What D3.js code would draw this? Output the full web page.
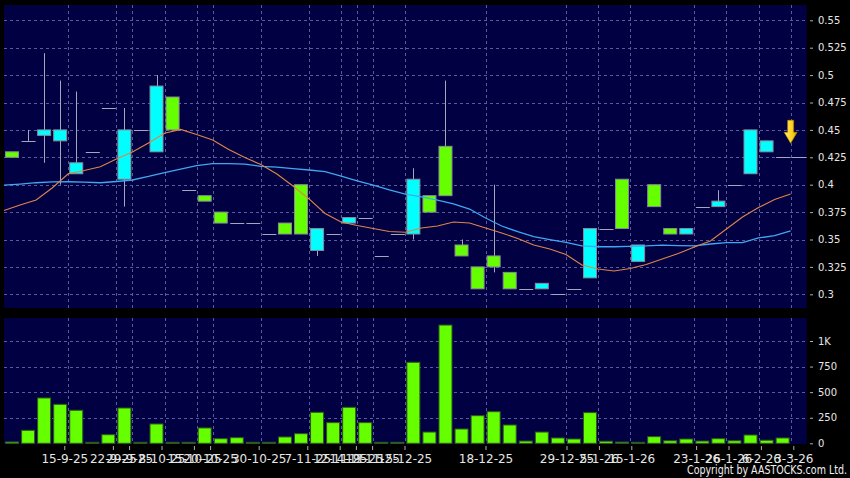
<!DOCTYPE html>
<html><head><meta charset="utf-8">
<script src="https://cdn.jsdelivr.net/npm/d3@7"></script>
<style>html,body{margin:0;padding:0;background:#000;}svg{display:block;}</style>
</head><body>
<svg id="c" width="850" height="478"></svg>
<script>
// ---- data ----
const opens  = [0.43,0.44,0.445,0.44,0.41,0.43,0.47,0.405,0.45,0.43,0.48,0.395,0.39,0.375,0.365,0.365,0.355,0.365,0.40,0.34,0.355,0.365,0.37,0.335,0.355,0.355,0.39,0.435,0.345,0.325,0.335,0.32,0.305,0.305,0.30,0.305,0.315,0.36,0.405,0.33,0.40,0.36,0.355,0.38,0.38,0.40,0.41,0.43,0.425];
const highs  = [0.43,0.45,0.52,0.495,0.485,0.43,0.47,0.47,0.45,0.50,0.48,0.395,0.39,0.375,0.365,0.365,0.355,0.365,0.40,0.36,0.355,0.37,0.37,0.335,0.355,0.415,0.39,0.495,0.35,0.325,0.40,0.32,0.305,0.31,0.30,0.305,0.36,0.36,0.405,0.345,0.40,0.36,0.36,0.38,0.395,0.40,0.45,0.44,0.425];
const lows   = [0.425,0.44,0.42,0.40,0.41,0.43,0.47,0.38,0.45,0.43,0.45,0.395,0.385,0.365,0.365,0.365,0.355,0.355,0.355,0.335,0.355,0.365,0.37,0.335,0.355,0.35,0.375,0.39,0.335,0.305,0.32,0.305,0.305,0.305,0.30,0.305,0.315,0.36,0.36,0.33,0.38,0.355,0.355,0.38,0.38,0.40,0.41,0.43,0.425];
const closes = [0.425,0.44,0.45,0.45,0.42,0.43,0.47,0.45,0.45,0.49,0.45,0.395,0.385,0.365,0.365,0.365,0.355,0.355,0.355,0.36,0.355,0.37,0.37,0.335,0.355,0.405,0.375,0.39,0.335,0.305,0.325,0.305,0.305,0.31,0.30,0.305,0.36,0.36,0.36,0.345,0.38,0.355,0.36,0.38,0.385,0.40,0.45,0.44,0.425];
const volumes = [13,127,443,381,323,6,84,345,2,189,8,8,150,45,55,0,10,62,94,303,202,352,202,10,10,792,110,1156,140,270,309,179,22,110,52,42,300,20,12,3,65,25,42,22,45,25,81,30,52];
// moving averages, one value per slot boundary (first value lies before candle 0)
const maShort = [0.3765,0.3815,0.386,0.397,0.41,0.413,0.4164,0.4234,0.4298,0.438,0.4469,0.4505,0.4458,0.4408,0.4321,0.4248,0.4184,0.4098,0.3988,0.387,0.3737,0.366,0.3628,0.36,0.3573,0.3566,0.3605,0.3623,0.366,0.365,0.3605,0.356,0.351,0.345,0.3413,0.3363,0.3267,0.3231,0.3213,0.3235,0.3272,0.3322,0.3372,0.3432,0.3486,0.3596,0.3705,0.3792,0.3865,0.3915];
const maLong  = [0.3997,0.4006,0.4018,0.4025,0.4027,0.4023,0.4018,0.4029,0.4043,0.4075,0.4111,0.4143,0.4175,0.4193,0.4193,0.4187,0.4168,0.4161,0.4146,0.4134,0.4119,0.4079,0.4034,0.3997,0.3952,0.3915,0.3888,0.386,0.3824,0.3778,0.3696,0.3623,0.3571,0.3526,0.3498,0.3473,0.3441,0.3434,0.3434,0.3438,0.3441,0.3448,0.3445,0.3441,0.3459,0.3471,0.3471,0.3514,0.3535,0.3578];
const tickIdx    = [3,6,7,9,11,12,15,18,20,21,22,24,29,34,36,38,42,44,46,48];
const tickLabels = ["15-9-25","22-9-25","29-9-25","8-10-25","15-10-25","20-10-25","30-10-25","7-11-25","12-11-25","14-11-25","19-11-25","15-12-25","18-12-25","29-12-25","5-1-26","15-1-26","23-1-26","26-1-26","6-2-26","3-3-26"];
const priceTicks = [0.3,0.325,0.35,0.375,0.4,0.425,0.45,0.475,0.5,0.525,0.55];
const volTicks   = [0,250,500,750,1000];
const volLabels  = ["0","250","500","750","1K"];

// ---- layout ----
const svg = d3.select("#c");
const L = 4, R = 806.7;
const mainTop = 5, mainBot = 308, volTop = 318, volBot = 444;
const n = closes.length;
const x = d3.scaleLinear().domain([-0.5, n + 0.5]).range([L, R]);
const xt = d3.scaleLinear().domain([0, n - 1]).range([15.7, 793.3]);
const y = d3.scaleLinear().domain([0.3, 0.55]).range([294.3, 20.3]);
const yv = d3.scaleLinear().domain([0, 1000]).range([443.3, 341]);
const slot = x(1) - x(0);
const bw = slot * 0.81;

const NAVY = "#000042", GRID = "#5a5aa0";
const CYAN = "#00ffff", GREEN = "#66ff00";

svg.append("rect").attr("width",850).attr("height",478).attr("fill","#000");
svg.append("rect").attr("x",L).attr("y",mainTop).attr("width",R-L).attr("height",mainBot-mainTop).attr("fill",NAVY);
svg.append("rect").attr("x",L).attr("y",volTop).attr("width",R-L).attr("height",volBot-volTop).attr("fill",NAVY);

const grid = svg.append("g").attr("stroke",GRID).attr("stroke-width",1).attr("stroke-dasharray","3,3").attr("shape-rendering","crispEdges");
priceTicks.forEach(v => grid.append("line").attr("x1",L).attr("x2",R).attr("y1",Math.round(y(v))+0.5).attr("y2",Math.round(y(v))+0.5));
volTicks.slice(1).forEach(v => grid.append("line").attr("x1",L).attr("x2",R).attr("y1",Math.round(yv(v))+0.5).attr("y2",Math.round(yv(v))+0.5));
tickIdx.forEach(i => {
  const gx = Math.round(x(i + 0.5)) + 0.5;
  grid.append("line").attr("x1",gx).attr("x2",gx).attr("y1",mainTop).attr("y2",mainBot);
  grid.append("line").attr("x1",gx).attr("x2",gx).attr("y1",volTop).attr("y2",volBot);
});

// volume bars
svg.append("g").selectAll("rect").data(volumes).join("rect")
  .attr("x",(d,i)=>x(i)-bw/2).attr("width",bw)
  .attr("y",d=>Math.min(yv(d), yv(0)-1)).attr("height",d=>Math.max(1, yv(0)-yv(d)))
  .attr("fill",GREEN).attr("stroke","#2d5a1a").attr("stroke-width",1);

// candles
const cg = svg.append("g");
const idx = d3.range(n);
cg.selectAll("line.w").data(idx.filter(i => highs[i] > lows[i])).join("line")
  .attr("x1",i=>Math.round(x(i))+0.5).attr("x2",i=>Math.round(x(i))+0.5)
  .attr("y1",i=>y(highs[i])).attr("y2",i=>y(lows[i]))
  .attr("stroke","#a6a6bc").attr("stroke-width",1);
cg.selectAll("line.d").data(idx.filter(i => opens[i] === closes[i])).join("line")
  .attr("x1",i=>x(i)-bw/2).attr("x2",i=>x(i)+bw/2+1)
  .attr("y1",i=>Math.round(y(closes[i]))+0.5).attr("y2",i=>Math.round(y(closes[i]))+0.5)
  .attr("stroke","#a6a6bc").attr("stroke-width",1);
cg.selectAll("rect").data(idx.filter(i => opens[i] !== closes[i])).join("rect")
  .attr("x",i=>x(i)-bw/2).attr("width",bw)
  .attr("y",i=>y(Math.max(opens[i],closes[i])))
  .attr("height",i=>Math.abs(y(opens[i])-y(closes[i])))
  .attr("fill",i=>closes[i] > opens[i] ? CYAN : GREEN)
  .attr("stroke","#8a8a9a").attr("stroke-width",1);

// last price extension
const last = closes[n-1];
svg.append("line").attr("x1",x(n-1+0.5)+1).attr("x2",R).attr("y1",Math.round(y(last))+0.5).attr("y2",Math.round(y(last))+0.5)
  .attr("stroke","#a6a6bc").attr("stroke-width",1);

// moving averages
const maLine = d3.line().x((d,k)=>x(k-0.5)).y(d=>y(d));
svg.append("path").attr("d",maLine(maLong)).attr("fill","none").attr("stroke","#3fa8f0").attr("stroke-width",1.3);
svg.append("path").attr("d",maLine(maShort)).attr("fill","none").attr("stroke","#e0844a").attr("stroke-width",1.1);

// arrow marker
const ax = x(n-1+0.5), ay = y(last) - 37;
const defs = svg.append("defs");
const gr = defs.append("linearGradient").attr("id","ag").attr("x1",0).attr("x2",1).attr("y1",0).attr("y2",0);
gr.append("stop").attr("offset","0%").attr("stop-color","#fff27a");
gr.append("stop").attr("offset","60%").attr("stop-color","#ffd21a");
gr.append("stop").attr("offset","100%").attr("stop-color","#d89a00");
svg.append("path")
  .attr("d",`M${ax-3},${ay} L${ax+3},${ay} L${ax+3},${ay+12} L${ax+6.5},${ay+12} L${ax},${ay+23} L${ax-6.5},${ay+12} L${ax-3},${ay+12} Z`)
  .attr("fill","url(#ag)").attr("stroke","#b88400").attr("stroke-width",0.6);

// axes
const font = "DejaVu Sans, Verdana, sans-serif";
const ya = svg.append("g").attr("transform",`translate(${810},0)`)
  .call(d3.axisRight(y).tickValues(priceTicks).tickSize(3).tickPadding(5).tickFormat(d=>String(d)));
const va = svg.append("g").attr("transform",`translate(${810},0)`)
  .call(d3.axisRight(yv).tickValues(volTicks).tickSize(3).tickPadding(5).tickFormat((d,i)=>volLabels[i]));
const xa = svg.append("g").attr("transform",`translate(0,${446})`)
  .call(d3.axisBottom(xt).tickValues(tickIdx).tickSize(4).tickPadding(4).tickFormat((d,i)=>tickLabels[i]));
[ya,va,xa].forEach(a => {
  a.select(".domain").remove();
  a.selectAll(".tick line").attr("stroke","#b0b0b0");
  a.selectAll("text").attr("fill","#e6e6e6").style("font-family",font);
});
ya.selectAll("text").style("font-size","10px");
va.selectAll("text").style("font-size","10px");
xa.selectAll("text").style("font-size","12px");

svg.append("text").attr("x",847).attr("y",474).attr("text-anchor","end")
  .attr("textLength",160).attr("lengthAdjust","spacingAndGlyphs")
  .style("font-family",font).style("font-size","11.5px").attr("fill","#f0f0f0")
  .text("Copyright by AASTOCKS.com Ltd.");
</script>
</body></html>
